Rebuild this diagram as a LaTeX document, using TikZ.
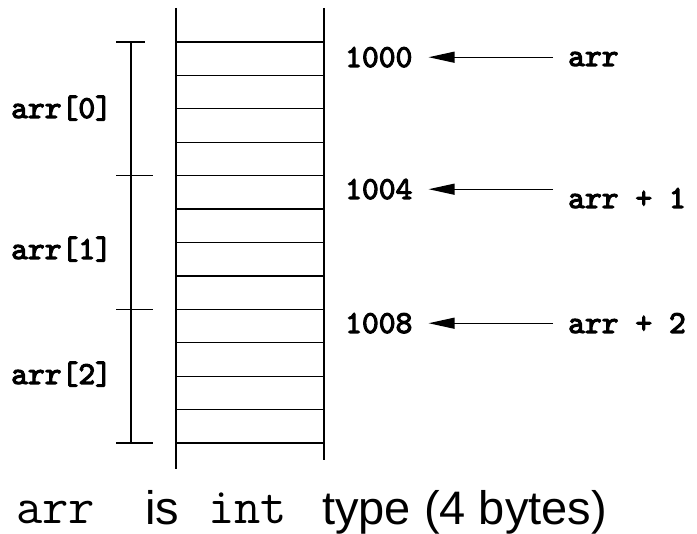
\documentclass[tikz,border=0pt]{standalone}
\usepackage{fontspec}
\setmainfont{Liberation Sans}
\newfontfamily\codeb{lmmono10-regular}[Extension=.otf, FakeBold=3.5]
\usetikzlibrary{arrows.meta}
\tikzset{
  rule/.style={line width=1.3pt, draw=black},
  lbl/.style={anchor=base west, inner sep=0pt, font=\codeb\fontsize{32}{32}\selectfont},
  bigcode/.style={anchor=base west, inner sep=0pt, font=\ttfamily\fontsize{51}{51}\selectfont},
  bigtext/.style={anchor=base west, inner sep=0pt, font=\fontsize{47}{47}\selectfont},
  ptr/.style={rule, -{Triangle[length=26pt,width=11pt]}}
}
\begin{document}
\begin{tikzpicture}[x=1pt,y=-1pt]
\useasboundingbox (0,0) rectangle (697,534);

% memory column: two sides and thirteen cell boundaries
\draw[rule] (176,8) -- (176,469);
\draw[rule] (324,8) -- (324,460);
\foreach \k in {0,...,12}
  \draw[rule] (176,{42+\k*33.4167}) -- (324,{42+\k*33.4167});

% bracket marking the three elements
\draw[rule] (131,42) -- (131,443);
\draw[rule] (116,42) -- (145,42);
\draw[rule] (116,175.67) -- (153,175.67);
\draw[rule] (116,309.33) -- (153,309.33);
\draw[rule] (116,443) -- (153,443);

% element names
\node[lbl] (e0) at (11,118) {arr[0]};
\node[lbl] (e1) at (11,259) {arr[1]};
\node[lbl] (e2) at (11,384) {arr[2]};

% addresses
\node[lbl] (a0) at (345,67) {1000};
\node[lbl] (a1) at (345,199) {1004};
\node[lbl] (a2) at (345,333) {1008};

% pointer expressions
\node[lbl] (p0) at (568,66) {arr};
\node[lbl] (p1) at (568,208) {arr + 1};
\node[lbl] (p2) at (568,333) {arr + 2};

% arrows from pointers to addresses
\draw[ptr] ([xshift=-15pt]p0.west |- a0.east) -- ([xshift=16pt]a0.east);
\draw[ptr] ([xshift=-15pt]p1.west |- a1.east) -- ([xshift=16pt]a1.east);
\draw[ptr] ([xshift=-15pt]p2.west |- a2.east) -- ([xshift=16pt]a2.east);

% caption
\node[bigcode] (c1) at (16,524) {arr};
\node[bigtext] (c2) at (145,525) {is};
\node[bigcode] (c3) at (208,524) {int};
\node[bigtext] (c4) at (322,525) {type (4 bytes)};
\end{tikzpicture}
\end{document}
